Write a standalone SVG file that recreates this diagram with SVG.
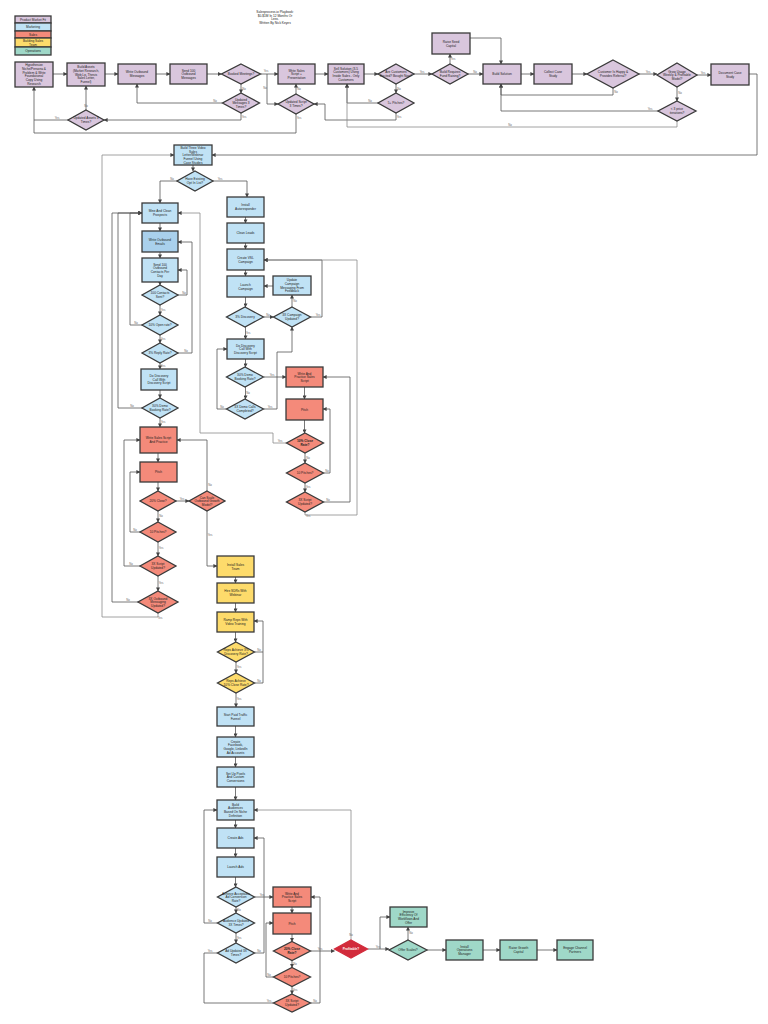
<svg xmlns="http://www.w3.org/2000/svg" width="768" height="1024" viewBox="0 0 768 1024">
<defs>
<marker id="a" markerUnits="userSpaceOnUse" markerWidth="4" markerHeight="4" refX="3.6" refY="2" orient="auto"><path d="M0,0 L4,2 L0,4 z" fill="#444"/></marker>
<style>
.n{stroke:#3a3a3a;stroke-width:1.3}
.p{fill:#d9c6dd}.b{fill:#c0e2f5}.bd{fill:#a9d0ec}.s{fill:#f48a7a}.y{fill:#fddb6b}.t{fill:#9fd8c8}.r{fill:#d22b3b;stroke:#d22b3b}
text{font-family:"Liberation Sans",Arial,sans-serif;font-size:3.2px;fill:#222;text-anchor:middle}
.w{fill:#fff;font-weight:bold}.bo{font-weight:bold}
.l{font-size:2.8px;fill:#666}
.c{fill:none;stroke:#555;stroke-width:0.8;marker-end:url(#a)}
.c2{fill:none;stroke:#555;stroke-width:0.8}
.g{fill:none;stroke:#8a8a8a;stroke-width:0.8;marker-end:url(#a)}
</style>
</defs>
<rect width="768" height="1024" fill="#fff"/>

<g id="legend">
<rect x="15" y="16" width="36" height="7" class="n p" stroke-width="0.8"/>
<rect x="15" y="23" width="36" height="8" class="n b" stroke-width="0.8"/>
<rect x="15" y="31" width="36" height="7" class="n s" stroke-width="0.8"/>
<rect x="15" y="38" width="36" height="9" class="n y" stroke-width="0.8"/>
<rect x="15" y="47" width="36" height="8" class="n t" stroke-width="0.8"/>
<text x="33" y="20.8">Product Market Fit</text>
<text x="33" y="28.2">Marketing</text>
<text x="33" y="35.7">Sales</text>
<text x="33" y="42">Building Sales<tspan x="33" dy="3.6">Team</tspan></text>
<text x="33" y="52.2">Operations</text>
</g>
<g id="title">
<text x="275" y="13">Salesprocess.io Playbook:<tspan x="275" dy="3.7">$0-$1M In 12 Months Or</tspan><tspan x="275" dy="3.7">Less.</tspan><tspan x="275" dy="3.7">Written By Nick Keyes</tspan></text>
</g>

<g id="connectors">
<path class="c" d="M53,74 H67"/>
<path class="c" d="M105,74 H118"/>
<path class="c" d="M156,74 H170"/>
<path class="c" d="M207,74 H221.5"/>
<path class="c" d="M260.5,74 H278"/>
<path class="c" d="M241,84 V93"/>
<path class="c" d="M267,74 V104 H278"/>
<path class="c" d="M222.5,103 H137 V84"/>
<path class="c" d="M241,113 V120 H104"/>
<path class="c" d="M86,110 V86"/>
<path class="c" d="M68,120 H34 V87"/>
<path class="c" d="M296,94 V84"/>
<path class="c2" d="M296,114 V133 H34 V120"/>
<path class="c" d="M315,74 H328"/>
<path class="c" d="M364,74 H378"/>
<path class="c" d="M414,74 H432"/>
<path class="c" d="M396,84 V93"/>
<path class="c" d="M378,103 H347 V84"/>
<path class="c" d="M396,113 V120 H325 V104 H314"/>
<path class="c" d="M450,64 V54"/>
<path class="c" d="M468,74 H483"/>
<path class="c" d="M470,38 H501 V64"/>
<path class="c" d="M521,74 H534"/>
<path class="c" d="M572,74 H587"/>
<path class="c" d="M639,74 H657"/>
<path class="c" d="M613,88 V95 H501 V84"/>
<path class="c" d="M697,75 H711"/>
<path class="c" d="M677,87 V101"/>
<path class="c" d="M658,111 H501 V84"/>
<path class="g" d="M677,121 V127 H347 V84"/>
<path class="c" d="M749,74 H757 V155 H212"/>

<path class="c" d="M193,165 V171"/>
<path class="c" d="M177,181 H160 V203"/>
<path class="c" d="M213,181 H247 V197"/>
<path class="c" d="M160,223 V231"/>
<path class="c" d="M160,252 V258"/>
<path class="c" d="M160,282 V285"/>
<path class="c" d="M178,295 H187 V270 H178"/>
<path class="c" d="M160,305 V315"/>
<path class="c" d="M142,325 H130 V213 H142"/>
<path class="c" d="M160,335 V343"/>
<path class="c" d="M178,353 H192 V242 H178"/>
<path class="c" d="M160,363 V369"/>
<path class="c" d="M160,390 V398"/>
<path class="c" d="M142,408 H118 V213 H142"/>
<path class="c" d="M160,418 V427"/>
<path class="c" d="M158,453 V462"/>
<path class="c" d="M158,482 V491"/>
<path class="c" d="M176,501 H189"/>
<path class="c" d="M207,491 V440 H177"/>
<path class="c" d="M207,511 V566 H217"/>
<path class="c" d="M158,511 V522"/>
<path class="c" d="M140,532 H130 V472 H140"/>
<path class="c" d="M158,542 V556"/>
<path class="c" d="M140,566 H124 V440 H140"/>
<path class="c" d="M158,576 V591"/>
<path class="c" d="M138,602 H112 V213 H142"/>
<path class="g" d="M158,613 V617 H102 V155 H174"/>

<path class="c" d="M245.5,217 V223"/>
<path class="c" d="M245.5,243 V249"/>
<path class="c" d="M245.5,270 V276"/>
<path class="c" d="M245.5,297 V307"/>
<path class="c" d="M263.5,317 H273.5"/>
<path class="c" d="M292,307 V295"/>
<path class="c" d="M273,286 H264"/>
<path class="c" d="M310.5,317 H322 V260 H264"/>
<path class="c" d="M245.5,327 V339"/>
<path class="c" d="M245.5,359 V367"/>
<path class="c" d="M264,377 H286"/>
<path class="c" d="M245.5,387 V399"/>
<path class="c" d="M226.5,409 H217 V349 H227"/>
<path class="c" d="M263.5,409 H277 V352 H292 V327"/>
<path class="c" d="M304.5,387 V399"/>
<path class="c" d="M304.5,420 V433"/>
<path class="g" d="M286.5,443 H273 V433 H200 V213 H178"/>
<path class="c" d="M305,453 V463"/>
<path class="c" d="M323.5,473 H330 V409 H323"/>
<path class="c" d="M305,483 V492"/>
<path class="c" d="M323.5,502 H350 V377 H323"/>
<path class="g" d="M305,512 V515 H357 V260 H264"/>

<path class="c" d="M235.5,577 V583"/>
<path class="c" d="M235.5,603 V612"/>
<path class="c" d="M235.5,632 V642"/>
<path class="c" d="M236,662 V673"/>
<path class="c" d="M254.5,652 H263 V621 H254"/>
<path class="c2" d="M254.5,683 H263 V652"/>
<path class="c" d="M236,693 V707"/>

<path class="c" d="M235.5,726 V737"/>
<path class="c" d="M235.5,757 V767"/>
<path class="c" d="M235.5,787 V800"/>
<path class="c" d="M235.5,820 V828"/>
<path class="c" d="M235.5,848 V857"/>
<path class="c" d="M235.5,877 V887"/>
<path class="c" d="M254.5,897 H273"/>
<path class="c" d="M236,907 V913"/>
<path class="c" d="M217.5,923 H204 V810 H217"/>
<path class="c" d="M236,933 V943"/>
<path class="c2" d="M217.5,953 H204"/>
<path class="c" d="M254.5,953 H264 V838 H254"/>
<path class="c" d="M292,907 V913"/>
<path class="c" d="M292,934 V941.5"/>
<path class="c" d="M310.5,951 H334.5"/>
<path class="c" d="M292,960.5 V967.5"/>
<path class="c" d="M273.5,977 H266 V923 H273"/>
<path class="c" d="M292,986.5 V994"/>
<path class="c" d="M310.5,1003 H320 V897 H311"/>
<path class="c2" d="M273.5,1003 H204 V953"/>
<path class="g" d="M351,940 V810 H254"/>
<path class="c" d="M367.5,949 H389"/>
<path class="c" d="M380,949 V917 H390"/>
<path class="c" d="M408,940 V927"/>
<path class="c" d="M427,950 H446"/>
<path class="c" d="M483,950 H500"/>
<path class="c" d="M537,950 H557"/>

<g id="labels">
<text class="l" x="266" y="72">Yes</text>
<text class="l" x="244" y="89.5">No</text>
<text class="l" x="265" y="89">No</text>
<text class="l" x="215" y="102">No</text>
<text class="l" x="244" y="118">Yes</text>
<text class="l" x="86" y="107">No</text>
<text class="l" x="57" y="119">Yes</text>
<text class="l" x="299" y="90">No</text>
<text class="l" x="299" y="119">Yes</text>
<text class="l" x="422" y="72.5">Yes</text>
<text class="l" x="399" y="89.5">No</text>
<text class="l" x="370" y="102">No</text>
<text class="l" x="399" y="118">Yes</text>
<text class="l" x="453" y="60">Yes</text>
<text class="l" x="475" y="72.5">No</text>
<text class="l" x="648" y="72.5">Yes</text>
<text class="l" x="616" y="93">No</text>
<text class="l" x="703" y="73.5">Yes</text>
<text class="l" x="680" y="94">No</text>
<text class="l" x="650" y="110">Yes</text>
<text class="l" x="510" y="126">No</text>
<text class="l" x="172" y="180">No</text>
<text class="l" x="220" y="180">Yes</text>
<text class="l" x="184" y="294">No</text>
<text class="l" x="163" y="311">Yes</text>
<text class="l" x="136" y="324">No</text>
<text class="l" x="163" y="340">Yes</text>
<text class="l" x="186" y="352">No</text>
<text class="l" x="163" y="367">Yes</text>
<text class="l" x="132" y="407">No</text>
<text class="l" x="163" y="423">Yes</text>
<text class="l" x="182" y="500">Yes</text>
<text class="l" x="210" y="486">No</text>
<text class="l" x="210" y="536">Yes</text>
<text class="l" x="161" y="517">No</text>
<text class="l" x="135" y="531">No</text>
<text class="l" x="161" y="549">Yes</text>
<text class="l" x="131" y="565">No</text>
<text class="l" x="161" y="584">Yes</text>
<text class="l" x="128" y="601">No</text>
<text class="l" x="160" y="619">Yes</text>
<text class="l" x="268" y="316">No</text>
<text class="l" x="295" y="302">No</text>
<text class="l" x="318" y="316">Yes</text>
<text class="l" x="248" y="334">Yes</text>
<text class="l" x="272" y="376">Yes</text>
<text class="l" x="248" y="394">No</text>
<text class="l" x="222" y="408">No</text>
<text class="l" x="270" y="408">Yes</text>
<text class="l" x="280" y="442">Yes</text>
<text class="l" x="308" y="459">No</text>
<text class="l" x="327" y="472">No</text>
<text class="l" x="308" y="488">Yes</text>
<text class="l" x="328" y="501">No</text>
<text class="l" x="308" y="517">Yes</text>
<text class="l" x="239" y="668">Yes</text>
<text class="l" x="259" y="651">No</text>
<text class="l" x="259" y="682">No</text>
<text class="l" x="239" y="700">Yes</text>
<text class="l" x="262" y="896">Yes</text>
<text class="l" x="239" y="911">No</text>
<text class="l" x="210" y="922">No</text>
<text class="l" x="239" y="939">Yes</text>
<text class="l" x="210" y="952">Yes</text>
<text class="l" x="259" y="952">No</text>
<text class="l" x="320" y="950">Yes</text>
<text class="l" x="295" y="965">No</text>
<text class="l" x="269" y="976">No</text>
<text class="l" x="295" y="991">Yes</text>
<text class="l" x="315" y="1002">No</text>
<text class="l" x="269" y="1002">Yes</text>
<text class="l" x="351" y="936">No</text>
<text class="l" x="378" y="948">Yes</text>
<text class="l" x="411" y="934">No</text>
</g>
</g>

<g id="n1"><rect class="n p" x="15" y="62" width="38" height="25"/><text x="34" y="66.3">Hypothesize<tspan x="34" dy="3.7">Niche/Persona &amp;</tspan><tspan x="34" dy="3.7">Problem &amp; Write</tspan><tspan x="34" dy="3.7">Foundational</tspan><tspan x="34" dy="3.7">Copy Using</tspan><tspan x="34" dy="3.7">Research</tspan></text></g>
<g id="n2"><rect class="n p" x="67" y="63" width="38" height="23"/><text x="86" y="68.3">Build Assets<tspan x="86" dy="3.7">(Market Research,</tspan><tspan x="86" dy="3.7">Web Lp, Thesis</tspan><tspan x="86" dy="3.7">Sales Letter,</tspan><tspan x="86" dy="3.7">Funnel)</tspan></text></g>
<g id="n3"><rect class="n p" x="118" y="64" width="38" height="20"/><text x="137" y="73.3">Write Outbound<tspan x="137" dy="3.7">Messages</tspan></text></g>
<g id="n4"><rect class="n p" x="170" y="64" width="37" height="20"/><text x="188.5" y="71.5">Send 100<tspan x="188.5" dy="3.7">Outbound</tspan><tspan x="188.5" dy="3.7">Messages</tspan></text></g>
<g id="d5"><polygon class="n p" points="241,64 260.5,74 241,84 221.5,74"/><text x="241" y="75.1">Booked Meetings?</text></g>
<g id="d6"><polygon class="n p" points="241,93 259.5,103 241,113 222.5,103"/><text x="241" y="100.5">Updated<tspan x="241" dy="3.7">Messages 3</tspan><tspan x="241" dy="3.7">Times?</tspan></text></g>
<g id="d7"><polygon class="n p" points="86,110 104,120 86,130 68,120"/><text x="86" y="119.3">Updated Assets 3<tspan x="86" dy="3.7">Times?</tspan></text></g>
<g id="n8"><rect class="n p" x="278" y="64" width="37" height="20"/><text x="296.5" y="71.5">Write Sales<tspan x="296.5" dy="3.7">Script +</tspan><tspan x="296.5" dy="3.7">Presentation</tspan></text></g>
<g id="d9"><polygon class="n p" points="296,94 314,104 296,114 278,104"/><text x="296" y="103.3">Updated Script<tspan x="296" dy="3.7">3 Times?</tspan></text></g>
<g id="n10"><rect class="n p" x="328" y="64" width="36" height="20"/><text x="346" y="69.6">Sell Solution (3-5<tspan x="346" dy="3.7">Customers) Using</tspan><tspan x="346" dy="3.7">Inside Sales - Only</tspan><tspan x="346" dy="3.7">Customers</tspan></text></g>
<g id="d11"><polygon class="n p" points="396,64 414,74 396,84 378,74"/><text x="396" y="73.3">Are Customers<tspan x="396" dy="3.7">Excited? Bought Now?</tspan></text></g>
<g id="d12"><polygon class="n p" points="396,93 414,103 396,113 378,103"/><text x="396" y="104.1">5+ Pitches?</text></g>
<g id="d13"><polygon class="n p" points="450,64 468,74 450,84 432,74"/><text x="450" y="73.3">Build Requires<tspan x="450" dy="3.7">Fund Raising?</tspan></text></g>
<g id="n14"><rect class="n p" x="432" y="33" width="38" height="21"/><text x="451" y="42.8">Raise Seed<tspan x="451" dy="3.7">Capital</tspan></text></g>
<g id="n15"><rect class="n p" x="483" y="64" width="38" height="20"/><text x="502" y="75.1">Build Solution</text></g>
<g id="n16"><rect class="n p" x="534" y="64" width="38" height="20"/><text x="553" y="73.3">Collect Case<tspan x="553" dy="3.7">Study</tspan></text></g>
<g id="d17"><polygon class="n p" points="613,60 639,74 613,88 587,74"/><text x="613" y="73.3">Customer Is Happy &amp;<tspan x="613" dy="3.7">Provides Referral?</tspan></text></g>
<g id="d18"><polygon class="n p" points="677,63 697,75 677,87 657,75"/><text x="677" y="72.5">Grow Usage<tspan x="677" dy="3.7">Weekly &amp; Profitable</tspan><tspan x="677" dy="3.7">Model?</tspan></text></g>
<g id="d19"><polygon class="n p" points="677,101 696,111 677,121 658,111"/><text x="677" y="110.3">&lt; 3 price<tspan x="677" dy="3.7">iterations?</tspan></text></g>
<g id="n20"><rect class="n p" x="711" y="64" width="38" height="21"/><text x="730" y="73.8">Document Case<tspan x="730" dy="3.7">Study</tspan></text></g>

<g id="b1"><rect class="n b" x="174" y="145" width="38" height="20"/><text x="193" y="148.8">Build Three Video<tspan x="193" dy="3.7">Sales</tspan><tspan x="193" dy="3.7">Letter/Webinar</tspan><tspan x="193" dy="3.7">Funnel Using</tspan><tspan x="193" dy="3.7">Case Studies</tspan></text></g>
<g id="db2"><polygon class="n b" points="195,171 213,181 195,191 177,181"/><text x="195" y="180.3">Have Existing<tspan x="195" dy="3.7">Opt In List?</tspan></text></g>
<g id="b3"><rect class="n b" x="142" y="203" width="36" height="20"/><text x="160" y="212.3">Mine And Clean<tspan x="160" dy="3.7">Prospects</tspan></text></g>
<g id="b4"><rect class="n bd" x="142" y="231" width="36" height="21"/><text x="160" y="240.8">Write Outbound<tspan x="160" dy="3.7">Emails</tspan></text></g>
<g id="b5"><rect class="n b" x="142" y="258" width="36" height="24"/><text x="160" y="265.6">Send 100<tspan x="160" dy="3.7">Outbound</tspan><tspan x="160" dy="3.7">Contacts Per</tspan><tspan x="160" dy="3.7">Day</tspan></text></g>
<g id="db6"><polygon class="n b" points="160,285 178,295 160,305 142,295"/><text x="160" y="294.3">100 Contacts<tspan x="160" dy="3.7">Sent?</tspan></text></g>
<g id="db7"><polygon class="n b" points="160,315 178,325 160,335 142,325"/><text x="160" y="326.1">10% Open rate?</text></g>
<g id="db8"><polygon class="n b" points="160,343 178,353 160,363 142,353"/><text x="160" y="354.1">3% Reply Rate?</text></g>
<g id="b9"><rect class="n b" x="141" y="369" width="36" height="21"/><text x="159" y="377">Do Discovery<tspan x="159" dy="3.7">Call With</tspan><tspan x="159" dy="3.7">Discovery Script</tspan></text></g>
<g id="db10"><polygon class="n b" points="160,398 178,408 160,418 142,408"/><text x="160" y="407.3">30% Demo<tspan x="160" dy="3.7">Booking Rate?</tspan></text></g>
<g id="s11"><rect class="n s" x="140" y="427" width="37" height="26"/><text x="158.5" y="439.3">Write Sales Script<tspan x="158.5" dy="3.7">And Practice</tspan></text></g>
<g id="s12"><rect class="n s" x="140" y="462" width="37" height="20"/><text x="158.5" y="473.1">Pitch</text></g>
<g id="ds13"><polygon class="n s" points="158,491 176,501 158,511 140,501"/><text x="158" y="502.1">20% Close?</text></g>
<g id="ds14"><polygon class="n s" points="207,491 225,501 207,511 189,501"/><text x="207" y="498.5">Can Scale<tspan x="207" dy="3.7">Outbound Growth</tspan><tspan x="207" dy="3.7">Model?</tspan></text></g>
<g id="ds15"><polygon class="n s" points="158,522 176,532 158,542 140,532"/><text x="158" y="533.1">10 Pitches?</text></g>
<g id="ds16"><polygon class="n s" points="158,556 176,566 158,576 140,566"/><text x="158" y="565.3">3X Script<tspan x="158" dy="3.7">Updated?</tspan></text></g>
<g id="ds17"><polygon class="n s" points="158,591 178,602 158,613 138,602"/><text x="158" y="599.5">3X Outbound<tspan x="158" dy="3.7">Messaging</tspan><tspan x="158" dy="3.7">Updated?</tspan></text></g>

<g id="r1"><rect class="n b" x="227" y="197" width="37" height="20"/><text x="245.5" y="206.3">Install<tspan x="245.5" dy="3.7">Autoresponder</tspan></text></g>
<g id="r2"><rect class="n b" x="227" y="223" width="37" height="20"/><text x="245.5" y="234.1">Clean Leads</text></g>
<g id="r3"><rect class="n b" x="227" y="249" width="37" height="21"/><text x="245.5" y="258.8">Create VSL<tspan x="245.5" dy="3.7">Campaign</tspan></text></g>
<g id="r4"><rect class="n b" x="227" y="276" width="37" height="21"/><text x="245.5" y="285.8">Launch<tspan x="245.5" dy="3.7">Campaign</tspan></text></g>
<g id="r5"><rect class="n b" x="273" y="276" width="38" height="19"/><text x="292" y="281.1">Update<tspan x="292" dy="3.7">Campaign</tspan><tspan x="292" dy="3.7">Messaging From</tspan><tspan x="292" dy="3.7">Feedback</tspan></text></g>
<g id="dr6"><polygon class="n b" points="245,307 263.5,317 245,327 226.5,317"/><text x="245" y="318.1">3% Discovery</text></g>
<g id="dr7"><polygon class="n b" points="292,307 310.5,317 292,327 273.5,317"/><text x="292" y="316.3">3X Campaign<tspan x="292" dy="3.7">Updated?</tspan></text></g>
<g id="r8"><rect class="n b" x="227" y="339" width="37" height="20"/><text x="245.5" y="346.5">Do Discovery<tspan x="245.5" dy="3.7">Call With</tspan><tspan x="245.5" dy="3.7">Discovery Script</tspan></text></g>
<g id="dr9"><polygon class="n b" points="245,367 263.5,377 245,387 226.5,377"/><text x="245" y="376.3">30% Demo<tspan x="245" dy="3.7">Booking Rate?</tspan></text></g>
<g id="dr10"><polygon class="n b" points="245,399 263.5,409 245,419 226.5,409"/><text x="245" y="408.3">3X Demo Calls<tspan x="245" dy="3.7">Completed?</tspan></text></g>
<g id="rs11"><rect class="n s" x="286" y="367" width="37" height="20"/><text x="304.5" y="374.5">Write And<tspan x="304.5" dy="3.7">Practice Sales</tspan><tspan x="304.5" dy="3.7">Script</tspan></text></g>
<g id="rs12"><rect class="n s" x="286" y="399" width="37" height="21"/><text x="304.5" y="410.6">Pitch</text></g>
<g id="drs13"><polygon class="n s" points="305,433 323.5,443 305,453 286.5,443"/><text class="bo" x="305" y="442.3">10% Close<tspan x="305" dy="3.7">Rate?</tspan></text></g>
<g id="drs14"><polygon class="n s" points="305,463 323.5,473 305,483 286.5,473"/><text x="305" y="474.1">10 Pitches?</text></g>
<g id="drs15"><polygon class="n s" points="305,492 323.5,502 305,512 286.5,502"/><text x="305" y="501.3">3X Script<tspan x="305" dy="3.7">Updated?</tspan></text></g>

<g id="y1"><rect class="n y" x="217" y="556" width="37" height="21"/><text x="235.5" y="565.8">Install Sales<tspan x="235.5" dy="3.7">Team</tspan></text></g>
<g id="y2"><rect class="n y" x="217" y="583" width="37" height="20"/><text x="235.5" y="592.3">Hire SDRs With<tspan x="235.5" dy="3.7">Webinar</tspan></text></g>
<g id="y3"><rect class="n y" x="217" y="612" width="37" height="20"/><text x="235.5" y="621.3">Ramp Reps With<tspan x="235.5" dy="3.7">Video Training</tspan></text></g>
<g id="dy4"><polygon class="n y" points="236,642 254.5,652 236,662 217.5,652"/><text x="236" y="651.3">Reps Achieve 3%<tspan x="236" dy="3.7">Discovery Rate?</tspan></text></g>
<g id="dy5"><polygon class="n y" points="236,673 254.5,683 236,693 217.5,683"/><text x="236" y="682.3">Reps Achieve<tspan x="236" dy="3.7">10% Close Rate?</tspan></text></g>

<g id="p1"><rect class="n b" x="217" y="707" width="37" height="19"/><text x="235.5" y="715.8">Start Paid Traffic<tspan x="235.5" dy="3.7">Funnel</tspan></text></g>
<g id="p2"><rect class="n b" x="217" y="737" width="37" height="20"/><text x="235.5" y="742.6">Create<tspan x="235.5" dy="3.7">Facebook,</tspan><tspan x="235.5" dy="3.7">Google, LinkedIn</tspan><tspan x="235.5" dy="3.7">Ad Accounts</tspan></text></g>
<g id="p3"><rect class="n b" x="217" y="767" width="37" height="20"/><text x="235.5" y="774.5">Set Up Pixels<tspan x="235.5" dy="3.7">And Custom</tspan><tspan x="235.5" dy="3.7">Conversions</tspan></text></g>
<g id="p4"><rect class="n b" x="217" y="800" width="37" height="20"/><text x="235.5" y="805.6">Build<tspan x="235.5" dy="3.7">Audiences</tspan><tspan x="235.5" dy="3.7">Based On Niche</tspan><tspan x="235.5" dy="3.7">Definition</tspan></text></g>
<g id="p5"><rect class="n b" x="217" y="828" width="37" height="20"/><text x="235.5" y="839.1">Create Ads</text></g>
<g id="p6"><rect class="n b" x="217" y="857" width="37" height="20"/><text x="235.5" y="868.1">Launch Ads</text></g>
<g id="dp7"><polygon class="n b" points="236,887 254.5,897 236,907 217.5,897"/><text x="236" y="894.5">Achieve Acceptable<tspan x="236" dy="3.7">Ad Conversion</tspan><tspan x="236" dy="3.7">Rate?</tspan></text></g>
<g id="dp8"><polygon class="n b" points="236,913 254.5,923 236,933 217.5,923"/><text x="236" y="922.3">Audience Updated<tspan x="236" dy="3.7">3X Times?</tspan></text></g>
<g id="dp9"><polygon class="n b" points="236,943 254.5,953 236,963 217.5,953"/><text x="236" y="952.3">Ad Updated 3X<tspan x="236" dy="3.7">Times?</tspan></text></g>
<g id="ps10"><rect class="n s" x="273" y="887" width="38" height="20"/><text x="292" y="894.5">Write And<tspan x="292" dy="3.7">Practice Sales</tspan><tspan x="292" dy="3.7">Script</tspan></text></g>
<g id="ps11"><rect class="n s" x="273" y="913" width="38" height="21"/><text x="292" y="924.6">Pitch</text></g>
<g id="dps12"><polygon class="n s" points="292,941.5 310.5,951 292,960.5 273.5,951"/><text class="bo" x="292" y="950.3">20% Close<tspan x="292" dy="3.7">Rate?</tspan></text></g>
<g id="dps13"><polygon class="n s" points="292,967.5 310.5,977 292,986.5 273.5,977"/><text x="292" y="978.1">10 Pitches?</text></g>
<g id="dps14"><polygon class="n s" points="292,994 310.5,1003 292,1012 273.5,1003"/><text x="292" y="1002.3">3X Script<tspan x="292" dy="3.7">Updated?</tspan></text></g>
<g id="rd"><polygon class="n r" points="351,940 367.5,949 351,958 334.5,949"/><text class="w" x="351" y="950.1">Profitable?</text></g>

<g id="t1"><rect class="n t" x="390" y="907" width="37" height="20"/><text x="408.5" y="912.6">Improve<tspan x="408.5" dy="3.7">Efficiency Of</tspan><tspan x="408.5" dy="3.7">Workflows And</tspan><tspan x="408.5" dy="3.7">Offer</tspan></text></g>
<g id="dt2"><polygon class="n t" points="408,940 427,950 408,960 389,950"/><text x="408" y="951.1">Offer Scales?</text></g>
<g id="t3"><rect class="n t" x="446" y="940" width="37" height="20"/><text x="464.5" y="947.5">Install<tspan x="464.5" dy="3.7">Operations</tspan><tspan x="464.5" dy="3.7">Manager</tspan></text></g>
<g id="t4"><rect class="n t" x="500" y="940" width="37" height="20"/><text x="518.5" y="949.3">Raise Growth<tspan x="518.5" dy="3.7">Capital</tspan></text></g>
<g id="t5"><rect class="n t" x="557" y="940" width="36" height="20"/><text x="575" y="949.3">Engage Channel<tspan x="575" dy="3.7">Partners</tspan></text></g>
</svg>
